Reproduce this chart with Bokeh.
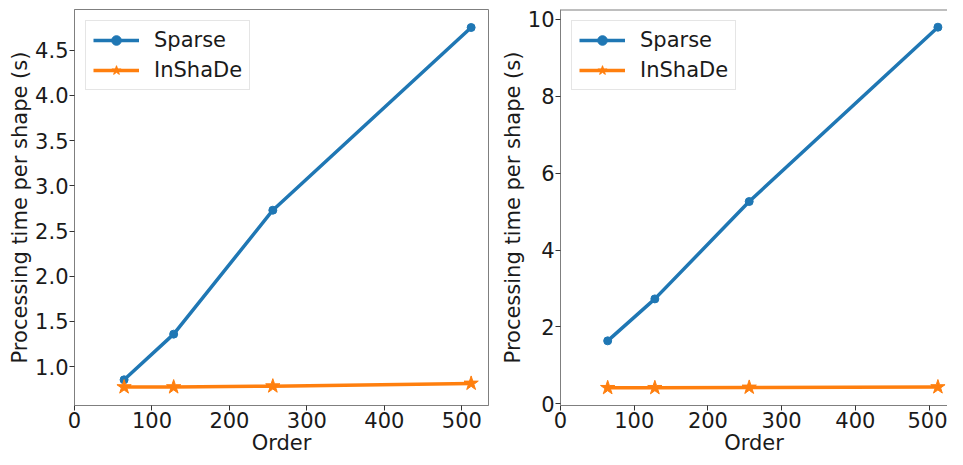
from bokeh.plotting import figure
from bokeh.layouts import row
from bokeh.models import FixedTicker, PrintfTickFormatter, Range1d, Span, Spacer
from bokeh.embed import file_html
from bokeh.resources import INLINE

order = [64, 128, 256, 512]
sparse_left = [0.855, 1.36, 2.73, 4.75]
inshade_left = [0.775, 0.775, 0.785, 0.815]
sparse_right = [1.64, 2.73, 5.26, 9.79]
inshade_right = [0.42, 0.42, 0.43, 0.44]
x_ticks = [0, 100, 200, 300, 400, 500]
y_ticks_left = [1.0, 1.5, 2.0, 2.5, 3.0, 3.5, 4.0, 4.5]
y_ticks_right = [0, 2, 4, 6, 8, 10]
x_title = "Order"
y_title = "Processing time per shape (s)"

BLUE = "#1f77b4"
ORANGE = "#ff7f0e"
FONT = "DejaVu Sans"
TXT = "#1a1a1a"
FS = "21px"


def make(width, min_left, min_right, xr, yr, sparse, inshade, yticks, yfmt, outline=True):
    p = figure(width=width, height=457, output_backend="svg", toolbar_location=None,
               x_range=Range1d(*xr), y_range=Range1d(*yr),
               min_border_left=min_left, min_border_right=min_right,
               min_border_top=9, min_border_bottom=0)
    p.background_fill_color = "white"
    p.border_fill_color = "white"
    p.grid.visible = False
    if outline:
        p.outline_line_color = "#7f7f7f"
        p.outline_line_width = 1
        p.outline_line_alpha = 1
    else:
        p.outline_line_color = None
        p.add_layout(Span(location=yr[1], dimension="width", line_color="#7f7f7f", line_width=2))
    for ax in (p.xaxis[0], p.yaxis[0]):
        ax.axis_line_color = "#7f7f7f"
        ax.major_tick_line_color = "#333333"
        ax.major_tick_out = 5
        ax.major_tick_in = 0
        ax.minor_tick_line_color = None
        ax.major_label_text_font = FONT
        ax.major_label_text_font_size = FS
        ax.major_label_text_color = TXT
        ax.axis_label_text_font = FONT
        ax.axis_label_text_font_size = FS
        ax.axis_label_text_font_style = "normal"
        ax.axis_label_text_color = TXT
        ax.major_label_standoff = 1
        ax.axis_label_standoff = 0
    p.xaxis.ticker = FixedTicker(ticks=x_ticks)
    p.yaxis.ticker = FixedTicker(ticks=yticks)
    p.yaxis.formatter = PrintfTickFormatter(format=yfmt)
    p.xaxis.axis_label = x_title
    p.yaxis.axis_label = y_title

    p.line(order, sparse, line_color=BLUE, line_width=3.5, line_join="round", legend_label="Sparse")
    p.scatter(order, sparse, marker="circle", size=8, fill_color=BLUE, line_color=BLUE, legend_label="Sparse")
    p.line(order, inshade, line_color=ORANGE, line_width=3.5, line_join="round", legend_label="InShaDe")
    p.scatter(order, inshade, marker="star", size=15, fill_color=ORANGE, line_color=ORANGE, legend_label="InShaDe")

    lg = p.legend[0]
    lg.location = "top_left"
    lg.margin = 11
    lg.padding = 7
    lg.spacing = 6
    lg.glyph_width = 46
    lg.glyph_height = 24
    lg.label_standoff = 15
    lg.label_text_font = FONT
    lg.label_text_font_size = FS
    lg.label_text_color = TXT
    lg.border_line_color = "#cccccc"
    lg.border_line_width = 1
    lg.background_fill_alpha = 0.8
    return p


left = make(492, 65, 9, (0, 534.4), (0.571, 4.949), sparse_left, inshade_left, y_ticks_left, "%.1f")
right = make(450, 57, 0, (0, 525), (-0.04, 10.25), sparse_right, inshade_right, y_ticks_right, "%d", outline=False)

layout = row(Spacer(width=5, height=457), left, right, spacing=0)
open("out.html", "w").write(file_html(layout, INLINE))
